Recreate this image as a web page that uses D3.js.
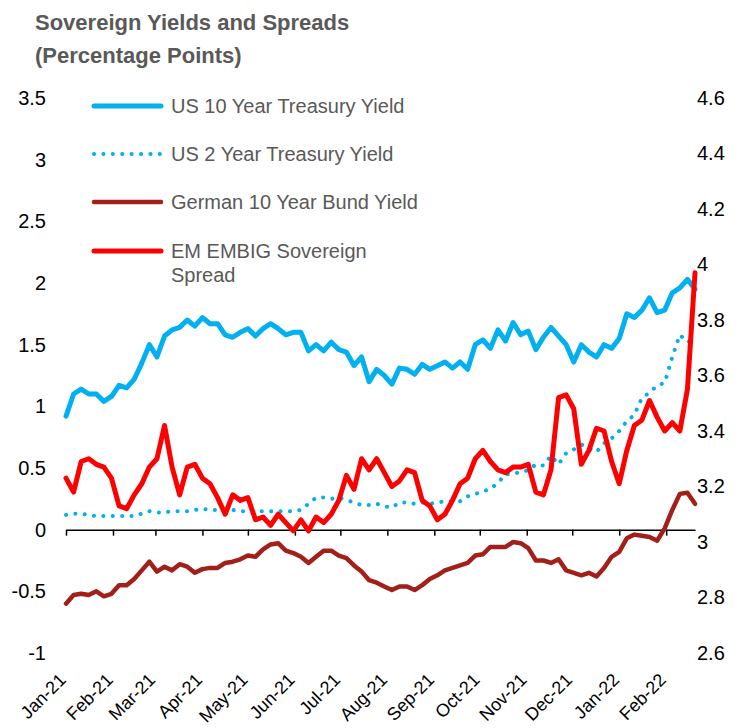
<!DOCTYPE html>
<html>
<head>
<meta charset="utf-8">
<script src="https://cdn.jsdelivr.net/npm/d3@7"></script>
<style>
  body { margin: 0; background: #fff; }
  text { font-family: "Liberation Sans", Arial, sans-serif; }
</style>
</head>
<body>
<div id="chart"></div>
<script>
// one reading every 5 days, starting 1 Jan 2021
const startDate = new Date(2021, 0, 1);
const stepDays = 5;

const us10y = [
  0.92,1.10,1.14,1.10,1.10,1.04,1.08,1.17,1.15,1.22,
  1.35,1.50,1.40,1.57,1.62,1.64,1.70,1.65,1.72,1.67,
  1.67,1.58,1.56,1.60,1.63,1.57,1.63,1.67,1.63,1.58,
  1.60,1.60,1.45,1.50,1.45,1.52,1.46,1.44,1.33,1.40,
  1.20,1.30,1.25,1.18,1.31,1.30,1.26,1.34,1.30,1.33,
  1.36,1.31,1.36,1.30,1.50,1.54,1.47,1.62,1.53,1.68,
  1.58,1.61,1.46,1.56,1.64,1.57,1.50,1.36,1.50,1.44,
  1.40,1.50,1.47,1.55,1.75,1.72,1.78,1.88,1.76,1.78,
  1.92,1.96,2.03,1.95
];
const us2y = [
  0.12,0.13,0.13,0.12,0.11,0.11,0.11,0.11,0.11,0.11,
  0.13,0.15,0.14,0.14,0.15,0.15,0.15,0.16,0.17,0.16,
  0.16,0.16,0.16,0.15,0.15,0.15,0.15,0.15,0.15,0.15,
  0.15,0.16,0.21,0.26,0.26,0.25,0.26,0.24,0.22,0.20,
  0.20,0.21,0.19,0.18,0.22,0.22,0.21,0.22,0.21,0.22,
  0.23,0.23,0.23,0.27,0.29,0.31,0.33,0.38,0.45,0.45,
  0.47,0.48,0.53,0.52,0.60,0.53,0.62,0.65,0.69,0.66,
  0.63,0.70,0.74,0.80,0.88,0.93,1.07,1.11,1.17,1.19,
  1.40,1.58,1.52,1.55
];
const bund10y = [
  -0.60,-0.53,-0.52,-0.53,-0.50,-0.54,-0.52,-0.45,-0.45,-0.40,
  -0.33,-0.26,-0.34,-0.30,-0.33,-0.28,-0.30,-0.35,-0.32,-0.31,
  -0.31,-0.27,-0.26,-0.24,-0.21,-0.22,-0.16,-0.12,-0.11,-0.17,
  -0.19,-0.22,-0.27,-0.22,-0.17,-0.17,-0.21,-0.23,-0.29,-0.34,
  -0.41,-0.43,-0.46,-0.49,-0.46,-0.46,-0.49,-0.45,-0.40,-0.37,
  -0.33,-0.31,-0.29,-0.27,-0.21,-0.20,-0.14,-0.14,-0.14,-0.10,
  -0.11,-0.15,-0.25,-0.25,-0.27,-0.24,-0.33,-0.35,-0.37,-0.35,
  -0.38,-0.31,-0.22,-0.18,-0.07,-0.04,-0.05,-0.06,-0.09,0.01,
  0.16,0.29,0.30,0.21
];
// right axis
const embigSpread = [
  3.23,3.18,3.29,3.30,3.28,3.27,3.23,3.13,3.12,3.17,
  3.21,3.27,3.30,3.42,3.27,3.17,3.27,3.28,3.23,3.21,
  3.16,3.10,3.17,3.15,3.16,3.08,3.09,3.06,3.10,3.07,
  3.04,3.08,3.04,3.09,3.07,3.10,3.15,3.24,3.19,3.30,
  3.26,3.30,3.25,3.20,3.22,3.26,3.25,3.15,3.13,3.08,
  3.10,3.15,3.21,3.23,3.30,3.33,3.29,3.26,3.25,3.27,
  3.27,3.28,3.18,3.17,3.26,3.52,3.53,3.48,3.28,3.33,
  3.41,3.40,3.29,3.21,3.33,3.42,3.44,3.51,3.45,3.40,
  3.43,3.40,3.55,3.97
];

const leftTicks = [-1, -0.5, 0, 0.5, 1, 1.5, 2, 2.5, 3, 3.5];
const rightTicks = [2.6, 2.8, 3, 3.2, 3.4, 3.6, 3.8, 4, 4.2, 4.4, 4.6];
const legendLines = [
  ["US 10 Year Treasury Yield"],
  ["US 2 Year Treasury Yield"],
  ["German 10 Year Bund Yield"],
  ["EM EMBIG Sovereign", "Spread"]
];

const width = 748, height = 728;
const svg = d3.select("#chart").append("svg")
  .attr("width", width)
  .attr("height", height);

const dates = us10y.map((d, i) => d3.timeDay.offset(startDate, i * stepDays));
const monthTicks = d3.timeMonth.range(startDate, d3.timeDay.offset(dates[dates.length - 1], 1));

// scales
const x = d3.scaleTime()
  .domain([startDate, dates[dates.length - 1]])
  .range([66, 695]);
const yL = d3.scaleLinear().domain([-1, 3.5]).range([653, 98]);
const yR = d3.scaleLinear().domain([2.6, 4.6]).range([653, 98]);

// title
const title = svg.append("g").attr("fill", "#595959")
  .attr("font-size", 22).attr("font-weight", "bold");
title.append("text").attr("x", 35).attr("y", 30).text("Sovereign Yields and Spreads");
title.append("text").attr("x", 35).attr("y", 63).text("(Percentage Points)");

// y axes (labels only)
const leftAxis = svg.append("g")
  .attr("transform", "translate(46,0)")
  .call(d3.axisLeft(yL).tickValues(leftTicks).tickSize(0).tickPadding(0).tickFormat(d => String(d)));
const rightAxis = svg.append("g")
  .attr("transform", "translate(697,0)")
  .call(d3.axisRight(yR).tickValues(rightTicks).tickSize(0).tickPadding(0).tickFormat(d => String(d)));
[leftAxis, rightAxis].forEach(g => {
  g.select(".domain").remove();
  g.selectAll("text").attr("font-size", 20).attr("fill", "#000")
    .style("font-family", '"Liberation Sans", Arial, sans-serif');
});

// x axis at zero
const xAxis = svg.append("g")
  .attr("transform", `translate(0,${yL(0)})`)
  .call(d3.axisBottom(x).tickValues(monthTicks).tickSize(6).tickSizeOuter(0).tickFormat(""));
xAxis.select(".domain").attr("stroke", "#000").attr("stroke-width", 1.5);
xAxis.selectAll(".tick line").attr("stroke", "#000").attr("stroke-width", 1.5);

// month labels at the bottom
svg.append("g").selectAll("text")
  .data(monthTicks)
  .enter().append("text")
  .attr("text-anchor", "end")
  .attr("font-size", 18)
  .attr("fill", "#000")
  .attr("transform", d => `translate(${x(d) + 1},${681}) rotate(-45)`)
  .text(d3.timeFormat("%b-%y"));

// series
const series = [
  { values: us10y, scale: yL, color: "#00B0F0", width: 5, dash: null },
  { values: us2y, scale: yL, color: "#00B0F0", width: 4, dash: "0.1 9.3" },
  { values: bund10y, scale: yL, color: "#A21F1A", width: 4.5, dash: null },
  { values: embigSpread, scale: yR, color: "#FF0000", width: 5, dash: null }
];

series.forEach(s => {
  const line = d3.line()
    .x((d, i) => x(dates[i]))
    .y(d => s.scale(d));
  svg.append("path")
    .datum(s.values)
    .attr("fill", "none")
    .attr("stroke", s.color)
    .attr("stroke-width", s.width)
    .attr("stroke-linejoin", "round")
    .attr("stroke-linecap", "round")
    .attr("stroke-dasharray", s.dash)
    .attr("d", line);
});

// legend
const legendY = [106, 154, 202, 251];
const legend = svg.append("g");
series.forEach((s, i) => {
  legend.append("line")
    .attr("x1", 94).attr("x2", 161)
    .attr("y1", legendY[i]).attr("y2", legendY[i])
    .attr("stroke", s.color)
    .attr("stroke-width", s.width)
    .attr("stroke-linecap", "round")
    .attr("stroke-dasharray", s.dash);
  legendLines[i].forEach((t, j) => {
    legend.append("text")
      .attr("x", 171)
      .attr("y", legendY[i] + 7 + j * 24)
      .attr("font-size", 20)
      .attr("fill", "#595959")
      .text(t);
  });
});
</script>
</body>
</html>
